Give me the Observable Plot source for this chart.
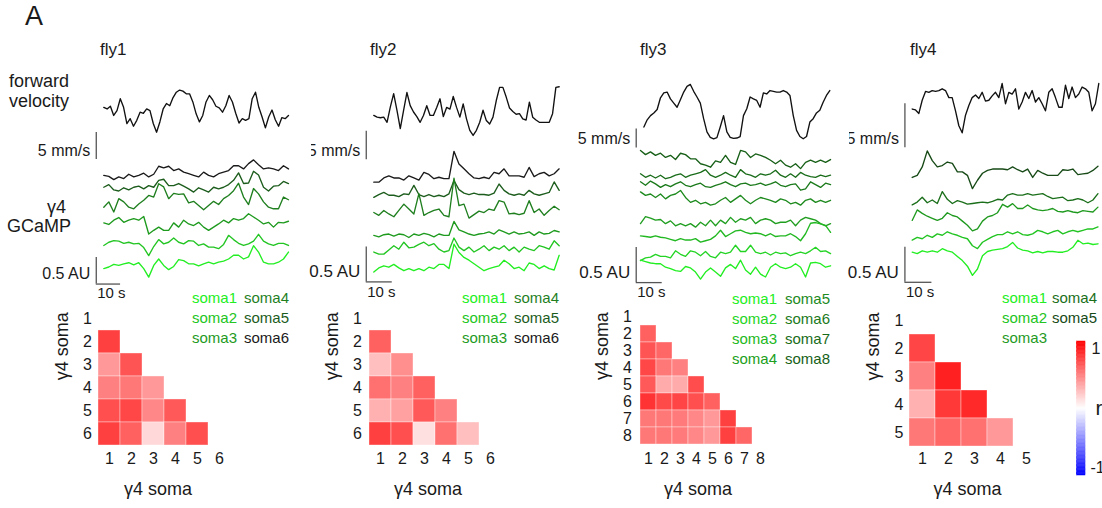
<!DOCTYPE html>
<html>
<head>
<meta charset="utf-8">
<script src="https://cdn.jsdelivr.net/npm/d3@7"></script>
<script src="https://cdn.jsdelivr.net/npm/@observablehq/plot@0.6"></script>
<style>
  body { margin: 0; background: #fff; }
  #fig { position: relative; width: 1102px; height: 508px; overflow: hidden; background: #fff;
         font-family: "Liberation Sans", Arial, Helvetica, sans-serif; color: #1a1a1a; }
  .box { position: absolute; overflow: hidden; }
  .lbl { position: absolute; white-space: nowrap; line-height: 1; }
  .hm g[aria-label*="axis"], .hm g[aria-label*="axis"] text { font-size: 16px; }
</style>
</head>
<body>
<div id="fig"></div>
<script>
// ---------- forward velocity (mm/s), evenly sampled over each recording ----------
const fly1Velocity = [4.9,4.6,5.1,3.4,4.3,6.5,4.9,1.9,2.8,1.4,2.5,4.0,3.8,4.6,4.3,1.9,0.3,2.2,4.6,5.6,5.2,6.7,7.7,8.1,7.9,7.4,7.4,5.9,3.7,2.2,3.4,5.9,7.1,6.3,5.1,4.8,4.0,5.2,7.1,5.9,3.8,2.0,2.8,2.5,2.8,6.5,7.7,4.9,3.1,1.1,3.1,4.4,2.6,1.4,3.0,2.8,3.4];
const fly2Velocity = [3.8,3.5,3.4,3.5,2.6,5.3,7.6,4.7,1.5,4.7,7.8,5.5,4.4,3.6,2.6,3.8,5.5,3.8,3.8,5.2,6.7,3.6,5.2,4.9,7.1,5.2,3.5,5.8,3.2,1.2,0.3,1.2,2.6,4.7,2.9,2.3,3.5,6.4,8.7,8.7,7.0,5.1,4.5,4.0,4.1,3.2,3.0,6.1,3.5,3.0,2.6,2.6,2.6,2.6,4.1,8.7,8.8];
const fly3Velocity = [3.1,5.0,6.1,6.8,7.7,10.8,12.1,12.3,10.5,9.4,8.3,10.3,12.3,13.8,14.3,12.5,11.0,9.4,5.3,1.8,0.4,0,0.3,3.1,6.1,1.8,0.4,0.1,0.2,0.6,6.1,7.9,11.0,10.5,10.1,8.3,12.1,11.8,12.7,12.5,12.3,12.3,12.7,12.3,11.4,6.1,2.2,0.6,0,0.6,4.4,5.3,6.8,7.5,9.6,11.4,12.7];
const fly4Velocity = [3.2,3.1,2.7,4.2,5.2,5.1,5.3,5.2,5.3,5.5,5.3,4.5,4.5,3.0,1.3,0.5,2.5,3.6,4.5,4.8,4.4,5.1,4.1,4.2,4.7,5.1,4.5,6.1,3.8,5.1,4.9,5.5,3.2,4.0,5.1,4.4,5.3,4.0,4.5,3.8,3.0,5.1,5.5,4.5,3.4,3.4,5.9,4.4,5.7,4.5,4.9,5.7,5.5,5.1,3.0,3.8,6.1];

// ---------- γ4 soma GCaMP (AU, relative to each trace's baseline), soma1 first ----------
const fly1GCaMP = [
  [-0.09,-0.06,-0.01,-0.03,0,0.02,-0.02,0.02,-0.09,-0.25,-0.03,0.09,-0.03,-0.11,-0.05,0.08,0.06,0,0,-0.04,0,0.03,0,0.03,0.05,0.09,0.16,0.16,0.09,0.13,0.34,0.22,0.03,0,0,0.03,0.09,0.22],
  [0,0.06,0.09,0.08,0.04,0.06,0.03,0.04,-0.04,-0.19,-0.02,0.11,0.03,0.06,0.14,0.06,0.03,0.09,0.08,0,0.03,-0.03,-0.03,-0.06,0.02,0.19,0.11,0.04,0,0.03,0.08,0.21,0.08,0.03,0,0.04,0.04,0],
  [0.08,0.05,0.13,0.18,0.09,0.13,0.16,0.13,0.2,-0.13,-0.06,0,-0.06,-0.06,0.08,0,0.13,0.06,0.03,0.09,0,-0.06,0,0.06,0.13,0.08,0.16,0.13,0.16,0.25,0.19,0.13,0.06,0.09,0,0.09,0.08,0.11],
  [0.03,0.13,-0.06,0.19,0.13,0.03,0,0.09,0.16,0.25,0.22,0.47,0.41,0.19,0.29,0.27,0.28,0.11,0.14,0.06,-0.02,0.06,0.14,0.08,0.19,0.25,0.34,0.48,0.22,0.08,0.38,0.28,0.13,0.03,0,0,0.22,0.17],
  [0.06,0.11,0.01,-0.01,0.05,0.01,0.06,0.08,0.03,0.09,0.06,0.19,0.21,0.09,0.09,0.13,0.08,0.03,-0.03,0.05,0.01,-0.03,0.06,0.03,0.06,0.11,0.19,0.33,0.13,0.14,0.36,0.29,0.06,-0.01,0.08,0.09,0.17,0.13],
  [-0.06,-0.08,-0.14,-0.09,-0.12,-0.04,-0.09,-0.06,-0.02,-0.09,-0.04,0.11,0.08,0.11,0.03,0.06,0,-0.03,-0.06,-0.09,0,-0.06,-0.09,-0.03,0,0.03,0.12,0.12,0.06,0.16,0.23,0.14,0.06,0.08,0.06,0.03,0.12,0.06]
];
const fly2GCaMP = [
  [-0.07,-0.01,0.02,0,0.04,-0.01,-0.05,-0.02,-0.05,-0.02,-0.05,0,-0.02,0.04,0.04,-0.02,0.33,0.21,0.14,0.1,0.05,0,-0.05,-0.02,0,0.02,0.1,0.05,-0.02,0,-0.05,0.06,0.04,-0.02,0.02,-0.02,-0.04,0.17],
  [-0.04,-0.07,-0.07,-0.01,0.05,0,0.1,0.02,0.03,0.07,0.1,0.05,0.08,0,-0.04,-0.02,0.16,0.03,-0.02,0.03,-0.04,0,0.05,-0.02,0.03,0,0.05,-0.02,0.03,-0.04,0.03,0,-0.02,0.05,0.03,0,0.12,0.05],
  [-0.06,-0.08,-0.05,-0.04,-0.07,-0.04,-0.05,-0.09,-0.04,-0.06,-0.03,-0.05,-0.08,-0.04,-0.06,-0.06,0.14,0.02,-0.01,-0.04,-0.06,-0.04,-0.03,-0.01,-0.04,0.02,-0.01,-0.04,-0.01,-0.04,-0.03,-0.01,-0.06,-0.01,-0.04,-0.03,0.01,-0.01],
  [0.01,-0.03,0.04,-0.01,-0.05,0.04,0.13,0.06,-0.01,0.28,-0.03,0.01,0.04,0.06,-0.03,-0.05,0.5,0.11,0.13,-0.07,-0.02,0.03,0.01,0.06,0.04,0.18,0.16,-0.01,0,-0.02,0,0.18,0.01,0.06,-0.03,0.04,0.1,0.05],
  [-0.03,0.01,0.04,0,0,-0.02,0.02,0.01,0.14,0.01,-0.02,0.01,-0.02,0,-0.02,0.02,0.21,0.08,0.03,0.01,0.03,0.01,0.01,0,0.03,0.16,0.07,0.02,0,0.02,0,0.07,0.02,0,0.02,0.04,0.19,0.07],
  [-0.07,-0.07,-0.01,0.02,-0.01,-0.01,-0.04,0.02,-0.01,-0.04,0.07,0.04,-0.02,0,-0.02,-0.02,0.37,0.19,0.12,0.05,-0.01,-0.02,0,-0.02,0.07,0.05,0.12,0.02,0.02,0.02,0,0.14,0.01,0.05,0.07,0.02,0.05,0.12]
];
const fly3GCaMP = [
  [0.1,0.08,0.06,0.05,0.05,0,-0.02,-0.05,-0.06,0.01,-0.01,-0.07,-0.17,-0.07,-0.01,-0.07,-0.13,-0.01,0.04,-0.02,0.1,-0.04,-0.1,0,-0.1,-0.14,0,0.05,0,-0.02,0,0.05,0,-0.14,0.06,0.07,0.05,0,0.02],
  [-0.13,-0.09,-0.08,-0.04,-0.07,-0.07,-0.09,0.01,-0.04,-0.07,0.01,-0.01,-0.06,0,-0.07,-0.09,-0.01,-0.03,-0.01,0.09,0,0,0.09,-0.01,-0.03,-0.01,-0.05,-0.01,-0.03,-0.02,-0.06,-0.03,-0.01,-0.03,0.01,0.06,0,0.01,-0.03],
  [0,-0.01,-0.02,0,-0.02,-0.03,-0.05,-0.07,-0.04,-0.06,-0.06,-0.04,-0.09,-0.07,-0.05,0,0.08,-0.01,0.03,0.07,0.08,0.05,0.03,0.04,0.03,0,0.03,-0.01,0,0,0.03,-0.01,-0.07,0.03,0.18,0.19,0.17,0.15,0.05],
  [-0.05,0.05,0.03,0,0.01,-0.05,-0.01,-0.08,-0.05,-0.08,-0.05,-0.1,-0.03,-0.08,0,-0.08,0,-0.05,0.04,-0.03,0.02,0,0.04,-0.05,0,0.02,0,-0.05,-0.03,-0.03,0,-0.08,0,0.04,0.02,0,-0.05,-0.08,-0.05],
  [0.18,0.13,0.15,0.1,0.15,0.08,0.13,0.15,0.2,0.1,0.03,0.06,0.01,0.03,-0.01,0.01,0.06,0.1,0.03,0.08,0.13,0.06,0.01,0.06,0.1,0.08,0.06,0.03,0.08,0.06,0.01,0.03,-0.01,0.06,0.08,0.03,0.06,0.03,0.06],
  [0.1,0.05,0.11,0.07,0.02,0.06,0.03,0.07,0.1,0.05,0.03,0.06,0.08,0.03,0.02,0.05,0.07,0.1,0.06,0.03,0.07,0.08,0.05,0.06,0.08,0.05,0.07,0.1,0.05,0.03,0.06,0.07,-0.02,0,0.1,0.06,0.02,0.08,0.06],
  [-0.01,-0.06,-0.03,-0.07,-0.03,-0.08,-0.06,-0.03,-0.01,-0.06,-0.03,-0.01,0.01,0.05,-0.03,-0.06,-0.03,0.01,-0.03,-0.06,0.05,-0.01,-0.03,-0.06,-0.01,-0.03,-0.01,0.04,-0.03,-0.06,-0.01,-0.06,0.01,-0.03,-0.05,-0.06,-0.03,-0.05,-0.03],
  [0.1,0.04,0.08,0.03,0.06,0,0.03,-0.03,0.06,0.04,-0.02,-0.02,-0.09,-0.11,-0.14,-0.05,-0.07,0.03,-0.07,-0.1,0.1,0.08,0,0.05,0.03,0,-0.04,-0.09,-0.04,-0.11,-0.14,-0.09,-0.16,-0.07,-0.04,-0.07,-0.04,-0.07,-0.03]
];
const fly4GCaMP = [
  [0,-0.02,0.02,0,0.02,0,0.05,0.02,0,-0.06,-0.12,-0.2,-0.33,-0.24,-0.05,0.01,0.03,0.04,0.05,0.08,0.14,0.06,0.03,0.02,-0.01,0.01,-0.01,0.01,0.01,0,0,0.02,0.07,0.17,0.12,0.13,0.11,0.12],
  [-0.12,-0.08,-0.1,-0.05,-0.08,-0.03,-0.05,0,-0.03,-0.05,-0.08,-0.1,-0.2,-0.24,-0.15,-0.11,-0.07,-0.04,-0.04,0,-0.03,0,-0.04,-0.05,-0.03,0.02,0,-0.03,0,0.02,-0.03,0,0.02,0,0.02,0.04,0.04,0.07],
  [-0.13,0.02,-0.03,-0.07,-0.1,-0.13,-0.1,-0.02,-0.06,-0.08,-0.14,-0.2,-0.28,-0.25,-0.14,-0.08,-0.06,-0.02,0.1,0.06,0.11,0.04,0.04,0.09,0.04,0.02,0.01,0.02,0.04,0,-0.01,0.01,-0.01,-0.02,0.01,0,-0.01,0.06],
  [-0.2,-0.16,-0.09,-0.17,-0.13,-0.18,-0.01,-0.12,-0.18,-0.14,-0.16,-0.19,-0.18,-0.17,-0.16,-0.17,-0.15,-0.12,-0.13,-0.06,-0.04,-0.06,-0.06,-0.04,-0.06,-0.05,-0.04,-0.08,-0.11,-0.1,-0.09,-0.14,-0.13,-0.11,-0.13,-0.17,-0.13,-0.04],
  [-0.1,-0.07,0.05,0.28,0.14,0.05,0.07,0.12,0.1,-0.02,-0.02,-0.07,-0.26,-0.14,-0.04,0,0.02,0.02,0.02,0.01,0.05,0.01,-0.02,0.02,-0.1,0,-0.04,-0.07,-0.07,-0.07,0.01,0,0.02,-0.06,-0.05,-0.04,0,0.06]
];

// ---------- pairwise correlation r, lower triangle (row = soma 2..n, col = soma 1..row-1) ----------
const fly1Corr = [[0.75],[0.40,0.67],[0.50,0.53,0.40],[0.69,0.72,0.47,0.65],[0.75,0.62,0.15,0.50,0.69]];
const fly2Corr = [[0.62],[0.25,0.44],[0.56,0.50,0.62],[0.31,0.37,0.65,0.50],[0.75,0.69,0.12,0.56,0.25]];
const fly3Corr = [[0.62],[0.67,0.60],[0.72,0.53,0.50],[0.65,0.33,0.33,0.70],[0.80,0.71,0.73,0.69,0.62],
                  [0.53,0.53,0.52,0.47,0.40,0.75],[0.53,0.53,0.52,0.47,0.40,0.75,0.60]];
const fly4Corr = [[0.73],[0.50,0.87],[0.31,0.78,0.84],[0.53,0.60,0.56,0.40]];

// recording durations (s) and scale bars
const fly1Duration = 76, fly2Duration = 71.3, fly3Duration = 73.1, fly4Duration = 68.8;
const velocityBar = 5;     // mm/s
const gcampBar = 0.5;      // AU
const timeBar = 10;        // s

// ---------- styling ----------
const FONT = '"Liberation Sans", Arial, Helvetica, sans-serif';
const INK = "#1a1a1a";
const BAR = "#555";
const sixGreens = ["#22ee22", "#22c522", "#1e9a1e", "#1f7f1f", "#1c5c1c", "#1a1a1a"];
const eightGreens = ["#22ee22", "#24d424", "#22b822", "#209e20", "#1d8a1d", "#1b7a1b", "#196c19", "#175f17"];
const fiveGreens = ["#22ee22", "#22c422", "#1f9a1f", "#1b6f1b", "#174a17"];
// blue → white → red, linear in RGB on each half
const rColor = {domain: [-1, 1], interpolate: d3.piecewise(d3.interpolateRgb, ["#0000ff", "#ffffff", "#ff0000"])};

const fig = document.getElementById("fig");

function mount(node, left, top, width, height, cls) {
  const box = document.createElement("div");
  box.className = "box" + (cls ? " " + cls : "");
  Object.assign(box.style, {left: left + "px", top: top + "px", width: width + "px", height: height + "px"});
  box.appendChild(node);
  fig.appendChild(box);
}

function label(str, left, baseline, size, color = INK) {
  const el = document.createElement("div");
  el.className = "lbl";
  el.textContent = str;
  Object.assign(el.style, {left: left + "px", top: (baseline - 0.8465 * size) + "px", fontSize: size + "px", color});
  fig.appendChild(el);
}

function series(values, t0, t1) {
  const step = (t1 - t0) / (values.length - 1);
  return values.map((v, i) => ({t: t0 + i * step, v}));
}

// A trace panel whose scales put t = 0 at page x "x0" and value 0 at page y "y0".
function tracePanel(p, marks) {
  const svg = Plot.plot({
    width: p.width, height: p.height, margin: 0,
    x: {axis: null, domain: [(p.left - p.x0) / p.pxPerSec, (p.left + p.width - p.x0) / p.pxPerSec]},
    y: {axis: null, domain: [(p.y0 - p.top - p.height) / p.pxPerUnit, (p.y0 - p.top) / p.pxPerUnit]},
    style: {background: "transparent", fontFamily: FONT, fontSize: "16px", color: INK},
    marks
  });
  mount(svg, p.left, p.top, p.width, p.height);
}

function velocityPanel(fly) {
  const p = fly.vel;
  tracePanel(p, [
    Plot.line(series(fly.velocity, p.t[0], p.t[1]), {x: "t", y: "v", stroke: "#111", strokeWidth: 1.35}),
    Plot.ruleX([p.barT], {x: d => d, y1: p.barBottom, y2: p.barBottom + velocityBar, stroke: BAR, strokeWidth: 1.3}),
    Plot.text([`${velocityBar} mm/s`], {x: p.barT, y: p.barBottom, text: d => d, dx: -6, dy: -9,
      textAnchor: "end", lineAnchor: "middle", fontSize: 16, fill: INK})
  ]);
}

function gcampPanel(fly) {
  const p = fly.ca;
  const lines = fly.gcamp.map((vals, k) =>
    Plot.line(series(vals.map(v => v + k * p.spacing), 0, fly.duration),
      {x: "t", y: "v", stroke: fly.colors[k], strokeWidth: 1.35}));
  tracePanel(p, [
    ...lines.reverse(),
    Plot.ruleX([p.barT], {x: d => d, y1: p.barBottom, y2: p.barBottom + gcampBar, stroke: BAR, strokeWidth: 1.3}),
    Plot.ruleY([p.barBottom], {y: d => d, x1: p.barT, x2: p.barT + timeBar, stroke: BAR, strokeWidth: 1.3}),
    Plot.text([`${gcampBar} AU`], {x: p.barT, y: p.barBottom, text: d => d, dx: -6, dy: -10,
      textAnchor: "end", lineAnchor: "middle", fontSize: p.auFont, fill: INK}),
    Plot.text([`${timeBar} s`], {x: p.barT, y: p.barBottom, text: d => d, dx: 1, dy: p.timeDy,
      textAnchor: "start", lineAnchor: "top", fontSize: 15, fill: INK})
  ]);
}

function corrPanel(fly) {
  const h = fly.hm;
  const n = fly.corr.length + 1;
  const somas = d3.range(1, n + 1);
  const cells = fly.corr.flatMap((row, i) => row.map((r, j) => ({row: i + 2, col: j + 1, r})));
  const marginLeft = h.frameLeft - h.left;
  const marginTop = h.bottom - n * h.stepY - h.top;
  const width = marginLeft + n * h.stepX + 14;
  const height = 508 - h.top;
  const svg = Plot.plot({
    width, height, marginLeft, marginTop,
    marginRight: 14, marginBottom: height - marginTop - n * h.stepY,
    x: {type: "band", domain: somas, padding: 0, tickSize: 0, tickPadding: 6, label: null},
    y: {type: "band", domain: somas, padding: 0, tickSize: 0, tickPadding: 6, label: null},
    color: rColor,
    style: {background: "transparent", fontFamily: FONT, fontSize: "16px", color: INK},
    marks: [
      Plot.cell(cells, {x: "col", y: "row", fill: "r", inset: 0, stroke: "#fff", strokeOpacity: 0.45, strokeWidth: 0.8}),
      Plot.text(["γ4 soma"], {text: d => d, frameAnchor: "bottom", dx: -7, dy: 43, fontSize: 18, fill: INK, lineAnchor: "middle"}),
      Plot.text(["γ4 soma"], {text: d => d, frameAnchor: "left", dx: -36, dy: 4, rotate: -90, fontSize: 18, fill: INK, lineAnchor: "middle"})
    ]
  });
  mount(svg, h.left, h.top, width, height, "hm");
}

function legend(fly) {
  const g = fly.legend;
  fly.colors.forEach((c, k) => {
    const col = Math.floor(k / g.rows.length), row = k % g.rows.length;
    label(`soma${k + 1}`, g.x[col], g.rows[row], 15, c);
  });
}

// ---------- panel layout ----------
const flies = [
  {name: "fly1", titleX: 100, velocity: fly1Velocity, gcamp: fly1GCaMP, corr: fly1Corr, colors: sixGreens, duration: fly1Duration,
   vel: {left: 0, top: 70, width: 296, height: 95, x0: 103.3, pxPerSec: 2.43, y0: 133.3, pxPerUnit: 5.4, t: [0, fly1Duration], barT: -3.1, barBottom: -4.75},
   ca: {left: 0, top: 150, width: 296, height: 158, x0: 103.3, pxPerSec: 2.43, y0: 263.3, pxPerUnit: 53.3, spacing: 0.344, barT: -3.1, barBottom: -0.38, auFont: 16, timeDy: 3},
   hm: {left: 40, top: 295, frameLeft: 97.3, stepX: 22.4, stepY: 23.4, bottom: 446},
   legend: {x: [192, 244], rows: [303, 323, 343]}},
  {name: "fly2", titleX: 370, velocity: fly2Velocity, gcamp: fly2GCaMP, corr: fly2Corr, colors: sixGreens, duration: fly2Duration,
   vel: {left: 311, top: 70, width: 255, height: 95, x0: 373.3, pxPerSec: 2.6, y0: 136.7, pxPerUnit: 5.73, t: [0, fly2Duration], barT: -2.9, barBottom: -3.95},
   ca: {left: 300, top: 140, width: 266, height: 168, x0: 373.3, pxPerSec: 2.6, y0: 266.7, pxPerUnit: 70, spacing: 0.257, barT: -2.9, barBottom: -0.21, auFont: 17, timeDy: 4},
   hm: {left: 310, top: 295, frameLeft: 367.3, stepX: 22.4, stepY: 23.4, bottom: 446},
   legend: {x: [462, 514], rows: [303, 323, 343]}},
  {name: "fly3", titleX: 640, velocity: fly3Velocity, gcamp: fly3GCaMP, corr: fly3Corr, colors: eightGreens, duration: fly3Duration,
   vel: {left: 575, top: 70, width: 265, height: 95, x0: 640, pxPerSec: 2.6, y0: 138.3, pxPerUnit: 3.8, t: [1.3, fly3Duration - 0.3], barT: -1.65, barBottom: -2.4},
   ca: {left: 575, top: 140, width: 265, height: 168, x0: 640, pxPerSec: 2.6, y0: 266.7, pxPerUnit: 70, spacing: 0.224, barT: -1.65, barBottom: -0.22, auFont: 17, timeDy: 4},
   hm: {left: 580, top: 295, frameLeft: 637.3, stepX: 16.8, stepY: 17.6, bottom: 446},
   legend: {x: [732, 785], rows: [304, 324, 344, 364]}},
  {name: "fly4", titleX: 910, velocity: fly4Velocity, gcamp: fly4GCaMP, corr: fly4Corr, colors: fiveGreens, duration: fly4Duration,
   vel: {left: 849, top: 65, width: 253, height: 100, x0: 911.7, pxPerSec: 2.7, y0: 136.7, pxPerUnit: 8.8, t: [0, fly4Duration + 0.3], barT: -2.7, barBottom: -1.2},
   ca: {left: 846, top: 135, width: 256, height: 173, x0: 911.7, pxPerSec: 2.7, y0: 251.7, pxPerUnit: 70, spacing: 0.292, barT: -2.7, barBottom: -0.43, auFont: 17, timeDy: 4},
   hm: {left: 852, top: 295, frameLeft: 909, stepX: 26, stepY: 28, bottom: 446},
   legend: {x: [1002, 1052], rows: [303, 323, 343]}}
];

// ---------- headings and row labels ----------
label("A", 25, 26, 27);
label("forward", 9, 87, 18);
label("velocity", 9, 107, 18);
label("γ4", 47, 213, 18);
label("GCaMP", 7, 232, 18);

for (const fly of flies) {
  label(fly.name, fly.titleX, 55, 17);
  velocityPanel(fly);
  gcampPanel(fly);
  corrPanel(fly);
  legend(fly);
}

// ---------- colour bar for r ----------
{
  const step = 0.02;
  const stops = d3.range(-1, 1 - step / 2, step);
  const svg = Plot.plot({
    width: 32, height: 160, marginLeft: 6.7, marginRight: 17, marginTop: 11, marginBottom: 15,
    x: {axis: null, domain: [0, 1]},
    y: {axis: null, domain: [-1, 1]},
    color: rColor,
    style: {background: "transparent", fontFamily: FONT, fontSize: "16px", color: INK},
    marks: [
      Plot.rect(stops, {x1: 0, x2: 1, y1: d => d, y2: d => d + step, fill: d => d + step / 2, stroke: d => d + step / 2, strokeWidth: 0.5}),
      Plot.text([1], {x: 1, y: d => d, text: d => String(d), dx: 6, dy: 7, textAnchor: "start", lineAnchor: "middle", fontSize: 16, fill: INK}),
      Plot.text([-1], {x: 1, y: d => d, text: d => "-" + Math.abs(d), dx: 5, dy: -8, textAnchor: "start", lineAnchor: "middle", fontSize: 16, fill: INK}),
      Plot.text(["r"], {x: 1, y: 0, text: d => d, dx: 10, textAnchor: "start", lineAnchor: "middle", fontSize: 21, fill: INK})
    ]
  });
  mount(svg, 1070, 330, 32, 160);
}
</script>
</body>
</html>
